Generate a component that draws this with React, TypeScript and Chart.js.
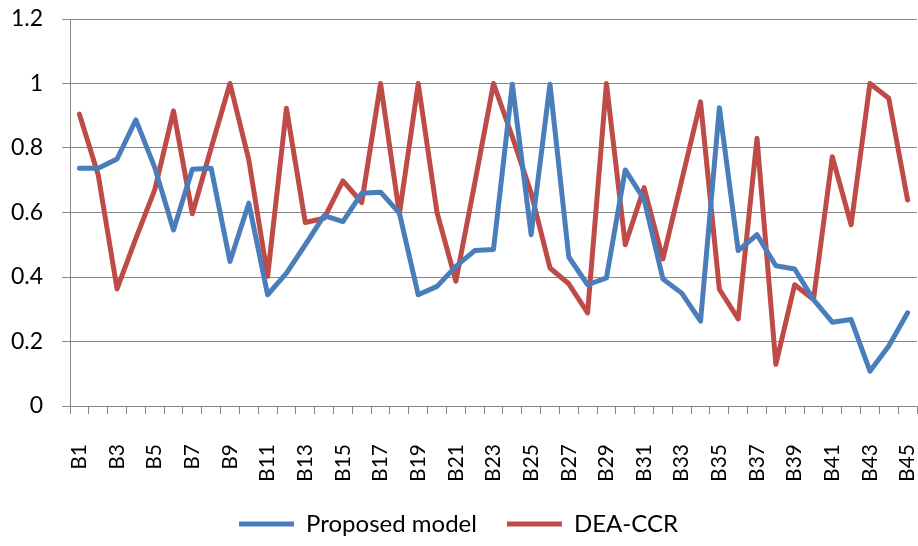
import React, { useEffect, useRef } from "react";
import { Chart, registerables } from "chart.js";

Chart.register(...registerables);

const categories: string[] = Array.from({ length: 45 }, (_, i) => "B" + (i + 1));

const proposedModel: number[] = [
  0.737, 0.737, 0.766, 0.887, 0.74, 0.546, 0.734, 0.737, 0.448, 0.629,
  0.345, 0.412, 0.5, 0.59, 0.572, 0.66, 0.663, 0.598, 0.345, 0.371,
  0.433, 0.482, 0.485, 0.998, 0.531, 0.998, 0.462, 0.376, 0.397, 0.732,
  0.641, 0.394, 0.35, 0.263, 0.925, 0.482, 0.531, 0.435, 0.425, 0.33,
  0.26, 0.268, 0.108, 0.186, 0.289,
];

const deaCcr: number[] = [
  0.905, 0.716, 0.363, 0.52, 0.67, 0.915, 0.596, 0.8, 1.0, 0.763,
  0.402, 0.923, 0.569, 0.582, 0.698, 0.631, 1.0, 0.596, 1.0, 0.6,
  0.387, 0.69, 1.0, 0.835, 0.66, 0.428, 0.379, 0.289, 1.0, 0.5,
  0.677, 0.456, 0.7, 0.943, 0.362, 0.27, 0.83, 0.129, 0.376, 0.33,
  0.773, 0.562, 1.0, 0.954, 0.639,
];

const yTicks: number[] = [0, 0.2, 0.4, 0.6, 0.8, 1, 1.2];

const FONT = "Lato, 'Open Sans', sans-serif";

export default function App() {
  const ref = useRef<HTMLCanvasElement | null>(null);

  useEffect(() => {
    if (!ref.current) return;
    const chart = new Chart(ref.current, {
      type: "line",
      data: {
        labels: categories,
        datasets: [
          {
            label: "Proposed model",
            data: proposedModel,
            borderColor: "#4a7ebb",
            backgroundColor: "#4a7ebb",
            borderWidth: 5,
            borderJoinStyle: "round",
            borderCapStyle: "round",
            pointRadius: 0,
            pointStyle: "line",
            tension: 0,
          },
          {
            label: "DEA-CCR",
            data: deaCcr,
            borderColor: "#be4b48",
            backgroundColor: "#be4b48",
            borderWidth: 5,
            borderJoinStyle: "round",
            borderCapStyle: "round",
            pointRadius: 0,
            pointStyle: "line",
            tension: 0,
          },
        ],
      },
      options: {
        animation: false,
        responsive: false,
        layout: { padding: { top: 19, right: 1, left: 0, bottom: 0 } },
        scales: {
          x: {
            offset: true,
            grid: {
              offset: true,
              drawOnChartArea: false,
              color: "#868686",
              tickLength: 8,
            },
            border: { color: "#868686" },
            ticks: {
              autoSkip: false,
              maxRotation: 90,
              minRotation: 90,
              padding: 30,
              color: "#000",
              font: { family: FONT, size: 21 },
              callback: (_v: any, i: number) => (i % 2 === 0 ? categories[i] : ""),
            },
            afterFit: (s: any) => {
              s.height = 76;
              s.paddingLeft = 0;
              s.paddingRight = 0;
            },
          },
          y: {
            min: 0,
            max: 1.2,
            afterBuildTicks: (s: any) => {
              s.ticks = yTicks.map((v) => ({ value: v }));
            },
            grid: { color: "#868686", tickLength: 8 },
            border: { color: "#868686" },
            ticks: {
              padding: 19,
              color: "#000",
              font: { family: FONT, size: 23 },
              callback: (v: any) => String(Math.round(Number(v) * 10) / 10),
            },
            afterFit: (s: any) => {
              s.width = 70;
              s.paddingTop = 0;
              s.paddingBottom = 0;
            },
          },
        },
        plugins: {
          legend: {
            position: "bottom",
            labels: {
              usePointStyle: true,
              pointStyleWidth: 55,
              padding: 30,
              color: "#000",
              font: { family: FONT, size: 24 },
            },
          },
          tooltip: { enabled: false },
        },
      },
    });
    return () => chart.destroy();
  }, []);

  return (
    <div style={{ position: "fixed", left: 0, top: 0, width: 918, height: 546, background: "#fff" }}>
      <canvas ref={ref} width={918} height={546} />
    </div>
  );
}
